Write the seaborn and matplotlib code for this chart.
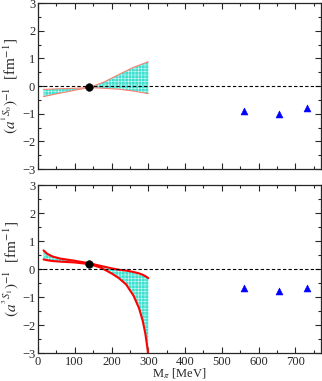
import numpy as np
import pandas as pd
import seaborn as sns
import matplotlib.pyplot as plt

### values
mpi_band = [15, 50, 100, 140, 180, 220, 260, 300]
s0_upper = [-0.12, -0.10, -0.08, -0.05, 0.15, 0.42, 0.68, 0.88]
s0_lower = [-0.38, -0.28, -0.15, -0.05, -0.08, -0.11, -0.18, -0.27]

mpi_band3 = [15, 25, 40, 60, 100, 140, 170, 200, 220, 240, 260, 275, 285, 292, 298, 300]
s1_upper = [0.67, 0.55, 0.45, 0.38, 0.30, 0.21, 0.12, 0.03, -0.02, -0.05, -0.10, -0.15, -0.20, -0.25, -0.30, -0.32]
s1_lower = [0.35, 0.32, 0.29, 0.27, 0.24, 0.18, 0.06, -0.15, -0.32, -0.55, -0.95, -1.40, -1.85, -2.30, -2.85, -3.10]

phys_mpi = [139]
phys_s0 = [-0.05]
phys_s1 = [0.18]

lat_mpi = [560, 655, 733]
lat_s0 = [-0.90, -0.99, -0.78]
lat_s1 = [-0.67, -0.79, -0.66]

sns.set_style('ticks')
plt.rcParams['font.family'] = ['Liberation Serif', 'DejaVu Serif']
plt.rcParams['mathtext.fontset'] = 'stix'
plt.rcParams['hatch.color'] = 'white'
plt.rcParams['hatch.linewidth'] = 0.3

fig = plt.figure(figsize=(3.22, 3.81), dpi=100)
ax1 = fig.add_axes([0.118, 0.556, 0.879, 0.436])
ax2 = fig.add_axes([0.118, 0.073, 0.879, 0.441])

panels = [
    (ax1, mpi_band, s0_upper, s0_lower, phys_s0, lat_s0, r'$\left(a^{{}^1S_0}\right)^{-1}$  [fm$^{-1}$]', 0.8, 'salmon'),
    (ax2, mpi_band3, s1_upper, s1_lower, phys_s1, lat_s1, r'$\left(a^{{}^3S_1}\right)^{-1}$  [fm$^{-1}$]', 1.5, 'red'),
]

for ax, xb, up, lo, ph, lat, lab, lw, lc in panels:
    ax.fill_between(xb, lo, up, facecolor='#3fe0d0', edgecolor='white', hatch='+++++', linewidth=0)
    df = pd.DataFrame({'x': xb + xb, 'y': up + lo, 'c': ['u'] * len(xb) + ['l'] * len(xb)})
    sns.lineplot(data=df, x='x', y='y', units='c', estimator=None, color=lc, lw=lw, ax=ax, sort=False)
    ax.axhline(0, color='black', ls='--', lw=0.8, dashes=(3, 2))
    sns.scatterplot(x=phys_mpi, y=ph, color='black', s=30, ax=ax, zorder=5, edgecolor='black')
    sns.scatterplot(x=lat_mpi, y=lat, color='blue', marker='^', s=25, ax=ax, zorder=5, edgecolor='blue')
    ax.set_xlim(0, 770)
    ax.set_ylim(-3, 3)
    ax.set_xticks([0, 100, 200, 300, 400, 500, 600, 700])
    ax.set_xticks(np.arange(50, 770, 100), minor=True)
    ax.set_yticks([-3, -2, -1, 0, 1, 2, 3])
    ax.set_yticks([-2.5, -1.5, -0.5, 0.5, 1.5, 2.5], minor=True)
    ax.tick_params(which='both', direction='in', top=True, right=True, labelsize=9, pad=2)
    ax.tick_params(which='major', length=4, width=0.8)
    ax.tick_params(which='minor', length=2, width=0.8)
    ax.set_ylabel(lab, fontsize=11, labelpad=1)
    ax.set_xlabel('')
    for s in ax.spines.values():
        s.set_linewidth(0.9)

ax1.set_xticklabels([])
ax2.set_xlabel(r'M$_\pi$ [MeV]', fontsize=9, labelpad=-1)

fig.savefig('out.png', dpi=100)
